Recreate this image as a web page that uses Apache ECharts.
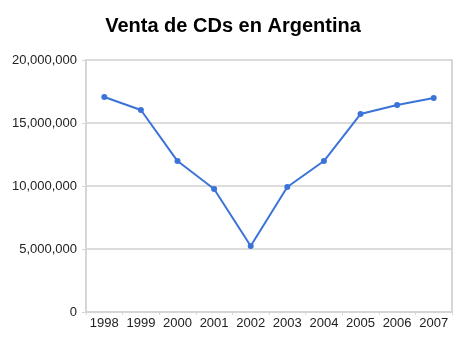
<!DOCTYPE html>
<html>
<head>
<meta charset="utf-8">
<script src="https://cdn.jsdelivr.net/npm/echarts@6/dist/echarts.min.js"></script>
<style>
  html, body { margin: 0; padding: 0; background: #fff; }
  #chart { width: 457px; height: 341px; }
</style>
</head>
<body>
<div id="chart"></div>
<script>
// Venta anual de CDs en Argentina (unidades)
const years = ['1998', '1999', '2000', '2001', '2002', '2003', '2004', '2005', '2006', '2007'];
const sales = [17060000, 16030000, 11980000, 9760000, 5240000, 9920000, 11980000, 15710000, 16430000, 16980000];
const yTicks = { min: 0, max: 20000000, step: 5000000 };

const chart = echarts.init(document.getElementById('chart'), null, { renderer: 'canvas' });

const fmt = v => v.toString().replace(/\B(?=(\d{3})+(?!\d))/g, ',');
const labelFont = 'Liberation Sans, Arial, sans-serif';

chart.setOption({
  animation: false,
  title: {
    text: 'Venta de CDs en Argentina',
    left: 228,
    textAlign: 'center',
    top: 11,
    textStyle: { fontFamily: labelFont, fontSize: 20, fontWeight: 'bold', color: '#000' }
  },
  grid: { left: 86, right: 5, top: 60, bottom: 29 },
  xAxis: {
    type: 'category',
    data: years,
    boundaryGap: true,
    axisLine: { show: true, lineStyle: { color: '#d6d6d6', width: 2 } },
    axisTick: { show: true, length: 3, lineStyle: { color: '#d6d6d6' } },
    axisLabel: { interval: 0, margin: 5, fontFamily: labelFont, fontSize: 13, color: '#222' },
    splitLine: { show: false }
  },
  yAxis: [{
    type: 'value',
    min: yTicks.min,
    max: yTicks.max,
    interval: yTicks.step,
    axisLine: { show: true, lineStyle: { color: '#d6d6d6', width: 2 } },
    axisTick: { show: true, length: 4, lineStyle: { color: '#d6d6d6' } },
    axisLabel: { margin: 9, formatter: fmt, fontFamily: labelFont, fontSize: 13, color: '#222' },
    splitLine: { show: true, lineStyle: { color: '#dcdcdc', width: 2 } }
  }, {
    type: 'value',
    position: 'right',
    min: yTicks.min,
    max: yTicks.max,
    interval: yTicks.step,
    axisLine: { show: true, lineStyle: { color: '#d6d6d6', width: 2 } },
    axisTick: { show: false },
    axisLabel: { show: false },
    splitLine: { show: false }
  }],
  series: [{
    type: 'line',
    data: sales,
    symbol: 'circle',
    symbolSize: 6,
    lineStyle: { color: '#3b73d9', width: 2 },
    itemStyle: { color: '#3b73d9' }
  }]
});
</script>
</body>
</html>
